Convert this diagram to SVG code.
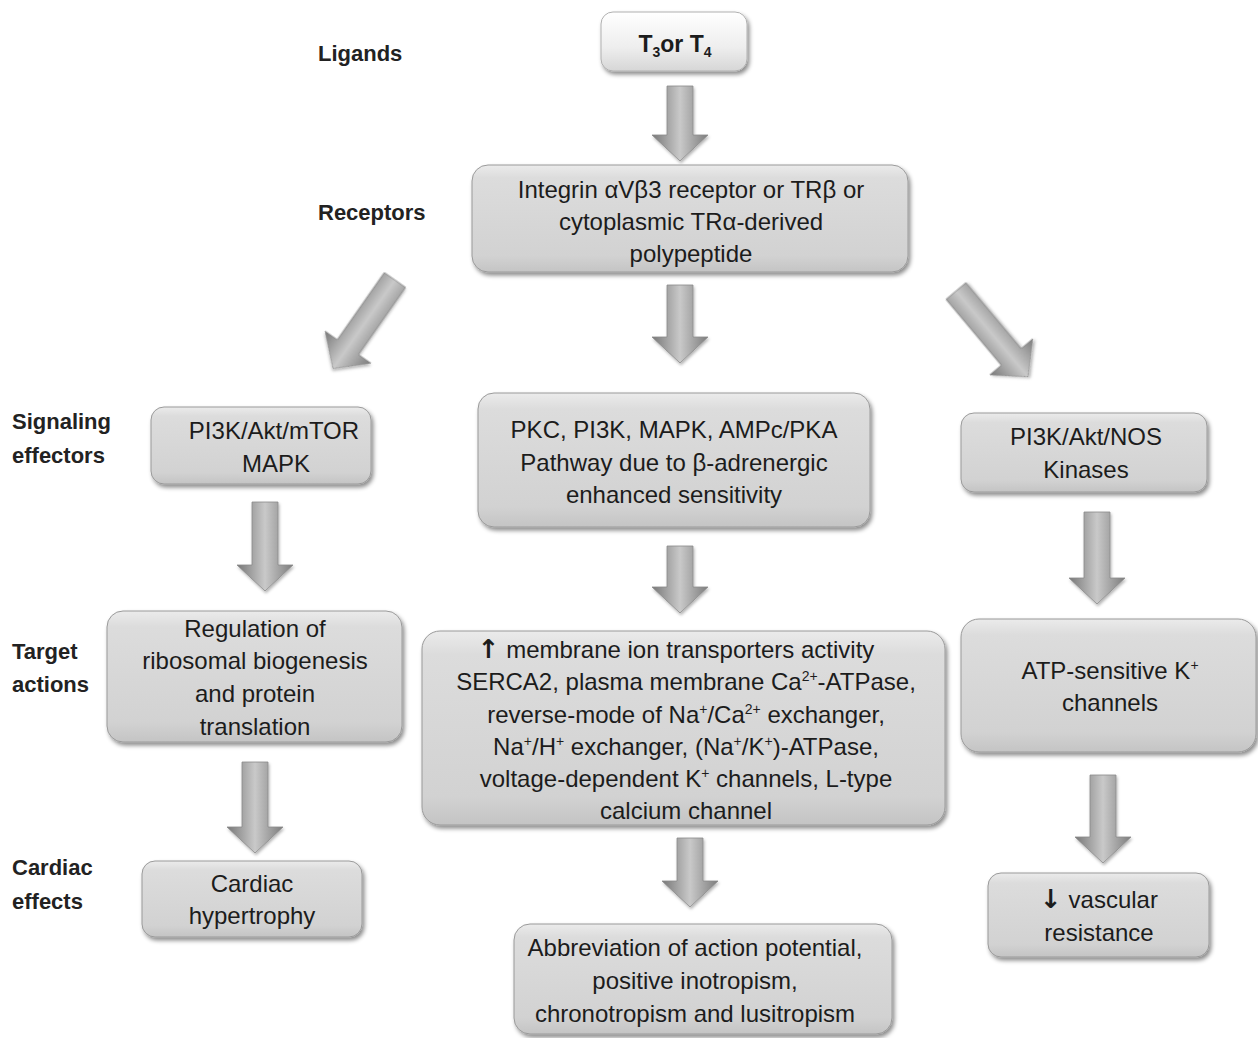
<svg xmlns="http://www.w3.org/2000/svg" width="1258" height="1038" viewBox="0 0 1258 1038">
<defs>
<linearGradient id="boxg" x1="0" y1="0" x2="0" y2="1">
<stop offset="0" stop-color="#ebebeb"/>
<stop offset="0.12" stop-color="#dcdcdc"/>
<stop offset="0.85" stop-color="#d2d2d2"/>
<stop offset="1" stop-color="#c4c4c4"/>
</linearGradient>
<linearGradient id="ligg" x1="0" y1="0" x2="0" y2="1">
<stop offset="0" stop-color="#ffffff"/>
<stop offset="0.6" stop-color="#eeeeee"/>
<stop offset="1" stop-color="#d6d6d6"/>
</linearGradient>
<linearGradient id="arrg" x1="0" y1="0" x2="1" y2="0">
<stop offset="0" stop-color="#777777"/>
<stop offset="0.5" stop-color="#c9c9c9"/>
<stop offset="1" stop-color="#7c7c7c"/>
</linearGradient>
<filter id="sh" x="-10%" y="-10%" width="125%" height="135%">
<feDropShadow dx="2" dy="3" stdDeviation="2" flood-color="#000" flood-opacity="0.45"/>
</filter>
<filter id="ash" x="-30%" y="-30%" width="160%" height="160%">
<feDropShadow dx="1" dy="2" stdDeviation="1.5" flood-color="#000" flood-opacity="0.3"/>
</filter>
</defs>
<style>
.box{fill:url(#boxg);stroke:#9a9a9a;stroke-width:1;filter:url(#sh)}
.lig{fill:url(#ligg);stroke:#b0b0b0;stroke-width:1;filter:url(#sh)}
.t{font-family:"Liberation Sans",Arial,sans-serif;font-size:24px;fill:#1c1c1c;text-anchor:middle}
.lab{font-family:"Liberation Sans",Arial,sans-serif;font-size:22px;font-weight:bold;fill:#222}
.arr{fill:url(#arrg);stroke:#8a8a8a;stroke-width:0.8;filter:url(#ash)}
.sup{font-size:14px}
.ar{font-family:"DejaVu Sans",sans-serif;font-weight:bold;font-size:26px}
</style>
<rect width="1258" height="1038" fill="#ffffff"/>

<g id="row-labels">
<text class="lab" x="318" y="61">Ligands</text>
<text class="lab" x="318" y="220">Receptors</text>
<text class="lab" x="12" y="429">Signaling</text>
<text class="lab" x="12" y="463">effectors</text>
<text class="lab" x="12" y="659">Target</text>
<text class="lab" x="12" y="692">actions</text>
<text class="lab" x="12" y="875">Cardiac</text>
<text class="lab" x="12" y="909">effects</text>
</g>

<g id="connectors">
<path class="arr" d="M667,86 L693,86 L693,135 L708,135 L680,161 L652,135 L667,135 Z"/>
<path class="arr" d="M667,285 L693,285 L693,337 L708,337 L680,363 L652,337 L667,337 Z"/>
<path class="arr" transform="translate(395,280) rotate(35)" d="M-13,0 L13,0 L13,82 L28,82 L0,108 L-28,82 L-13,82 Z"/>
<path class="arr" transform="translate(956,291) rotate(-40)" d="M-13,0 L13,0 L13,86 L28,86 L0,112 L-28,86 L-13,86 Z"/>
<path class="arr" d="M252,502 L278,502 L278,565 L293,565 L265,591 L237,565 L252,565 Z"/>
<path class="arr" d="M667,546 L693,546 L693,587 L708,587 L680,613 L652,587 L667,587 Z"/>
<path class="arr" d="M1084,512 L1110,512 L1110,578 L1125,578 L1097,604 L1069,578 L1084,578 Z"/>
<path class="arr" d="M242,762 L268,762 L268,827 L283,827 L255,853 L227,827 L242,827 Z"/>
<path class="arr" d="M677,838 L703,838 L703,881 L718,881 L690,907 L662,881 L677,881 Z"/>
<path class="arr" d="M1090,775 L1116,775 L1116,837 L1131,837 L1103,863 L1075,837 L1090,837 Z"/>
</g>

<g id="ligand">
<rect class="lig" x="601" y="12" width="146" height="59" rx="12"/>
<text class="t" x="675" y="52" style="font-weight:bold;font-size:23px">T<tspan class="sup" dy="5">3</tspan><tspan dy="-5">or T</tspan><tspan class="sup" dy="5">4</tspan></text>
</g>

<g id="receptor">
<rect class="box" x="472" y="165" width="436" height="107" rx="16"/>
<text class="t" x="691" y="198">Integrin αVβ3 receptor or TRβ or</text>
<text class="t" x="691" y="230">cytoplasmic  TRα-derived</text>
<text class="t" x="691" y="262">polypeptide</text>
</g>

<g id="sig-left">
<rect class="box" x="151" y="407" width="220" height="77" rx="13"/>
<text class="t" x="274" y="439">PI3K/Akt/mTOR</text>
<text class="t" x="276" y="472">MAPK</text>
</g>

<g id="sig-center">
<rect class="box" x="478" y="393" width="392" height="134" rx="16"/>
<text class="t" x="674" y="438">PKC, PI3K, MAPK, AMPc/PKA</text>
<text class="t" x="674" y="471">Pathway due to β-adrenergic</text>
<text class="t" x="674" y="503">enhanced sensitivity</text>
</g>

<g id="sig-right">
<rect class="box" x="961" y="413" width="246" height="79" rx="13"/>
<text class="t" x="1086" y="445">PI3K/Akt/NOS</text>
<text class="t" x="1086" y="478">Kinases</text>
</g>

<g id="target-left">
<rect class="box" x="107" y="611" width="295" height="131" rx="16"/>
<text class="t" x="255" y="637">Regulation of</text>
<text class="t" x="255" y="669">ribosomal biogenesis</text>
<text class="t" x="255" y="702">and protein</text>
<text class="t" x="255" y="735">translation</text>
</g>

<g id="target-center">
<rect class="box" x="422" y="631" width="523" height="194" rx="18"/>
<text class="t" x="676" y="658"><tspan class="ar">↑</tspan> membrane ion transporters activity</text>
<text class="t" x="686" y="690">SERCA2, plasma membrane Ca<tspan class="sup" dy="-9">2+</tspan><tspan dy="9">-ATPase,</tspan></text>
<text class="t" x="686" y="723">reverse-mode of Na<tspan class="sup" dy="-9">+</tspan><tspan dy="9">/Ca</tspan><tspan class="sup" dy="-9">2+</tspan><tspan dy="9"> exchanger,</tspan></text>
<text class="t" x="686" y="755">Na<tspan class="sup" dy="-9">+</tspan><tspan dy="9">/H</tspan><tspan class="sup" dy="-9">+</tspan><tspan dy="9"> exchanger, (Na</tspan><tspan class="sup" dy="-9">+</tspan><tspan dy="9">/K</tspan><tspan class="sup" dy="-9">+</tspan><tspan dy="9">)-ATPase,</tspan></text>
<text class="t" x="686" y="787">voltage-dependent K<tspan class="sup" dy="-9">+</tspan><tspan dy="9"> channels,  L-type</tspan></text>
<text class="t" x="686" y="819">calcium channel</text>
</g>

<g id="target-right">
<rect class="box" x="961" y="619" width="295" height="133" rx="18"/>
<text class="t" x="1110" y="679">ATP-sensitive K<tspan class="sup" dy="-9">+</tspan></text>
<text class="t" x="1110" y="711">channels</text>
</g>

<g id="cardiac-left">
<rect class="box" x="142" y="861" width="220" height="76" rx="13"/>
<text class="t" x="252" y="892">Cardiac</text>
<text class="t" x="252" y="924">hypertrophy</text>
</g>

<g id="cardiac-center">
<rect class="box" x="514" y="924" width="378" height="110" rx="16"/>
<text class="t" x="695" y="956">Abbreviation of action potential,</text>
<text class="t" x="695" y="989">positive inotropism,</text>
<text class="t" x="695" y="1022">chronotropism and lusitropism</text>
</g>

<g id="cardiac-right">
<rect class="box" x="988" y="873" width="221" height="84" rx="13"/>
<text class="t" x="1099" y="908"><tspan class="ar">↓</tspan> vascular</text>
<text class="t" x="1099" y="941">resistance</text>
</g>
</svg>
